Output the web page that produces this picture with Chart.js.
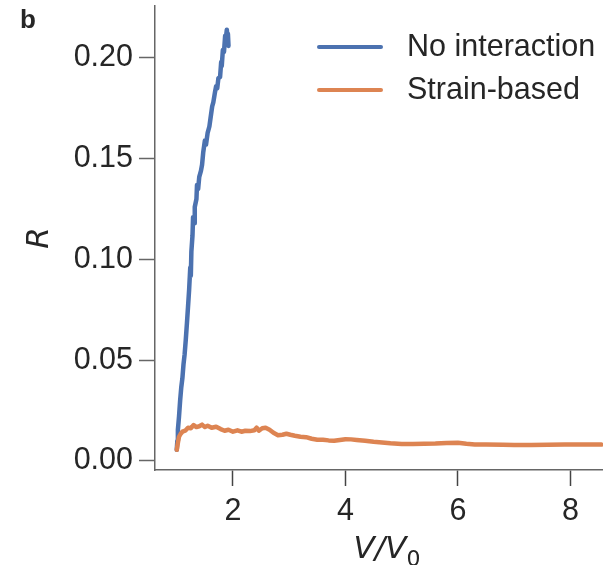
<!DOCTYPE html>
<html>
<head>
<meta charset="utf-8">
<script src="https://cdn.jsdelivr.net/npm/chart.js@4.4.1/dist/chart.umd.min.js"></script>
<style>
  html, body { margin: 0; padding: 0; background: #fff; overflow: hidden; }
</style>
</head>
<body>
<canvas id="chart" width="603" height="565"></canvas>
<script>
// values
const seriesNames = ["No interaction", "Strain-based"];
const xTicks = [2, 4, 6, 8];
const yTicks = [0, 0.05, 0.1, 0.15, 0.2];

const vNo = [1.00, 1.01, 1.02, 1.04, 1.06, 1.08, 1.10, 1.12, 1.14, 1.16, 1.18, 1.20,
  1.22, 1.24, 1.25, 1.26, 1.28, 1.29, 1.31, 1.32, 1.35, 1.36, 1.38, 1.40, 1.43, 1.45,
  1.47, 1.50, 1.52, 1.55, 1.58, 1.60, 1.63, 1.65, 1.68, 1.70, 1.72, 1.74, 1.77, 1.79,
  1.80, 1.82, 1.84, 1.86, 1.87, 1.89, 1.90, 1.91, 1.92];
const rNo = [0.0055, 0.010, 0.0155, 0.022, 0.030, 0.0365, 0.041, 0.048, 0.053, 0.060, 0.068, 0.0764,
  0.085, 0.096, 0.092, 0.104, 0.112, 0.121, 0.118, 0.126, 0.130, 0.137, 0.135, 0.141, 0.144, 0.147,
  0.153, 0.159, 0.157, 0.163, 0.166, 0.170, 0.176, 0.178, 0.183, 0.186, 0.185, 0.190, 0.1905, 0.198,
  0.196, 0.204, 0.203, 0.211, 0.209, 0.214, 0.211, 0.212, 0.206];

const vStrain = [1.00, 1.02, 1.04, 1.07, 1.10, 1.15, 1.20, 1.25, 1.30, 1.35, 1.40, 1.45, 1.50,
  1.55, 1.62, 1.70, 1.78, 1.85, 1.92, 2.00, 2.08, 2.15, 2.22, 2.30, 2.38, 2.42, 2.46, 2.52,
  2.58, 2.65, 2.72, 2.80, 2.88, 2.95, 3.02, 3.10, 3.20, 3.30, 3.40, 3.50, 3.60, 3.70, 3.80,
  3.90, 4.00, 4.10, 4.20, 4.35, 4.50, 4.65, 4.80, 5.00, 5.20, 5.40, 5.60, 5.80, 6.00, 6.15,
  6.30, 6.50, 6.80, 7.00, 7.30, 7.60, 7.90, 8.10, 8.30, 8.55];
const rStrain = [0.0055, 0.009, 0.012, 0.0135, 0.0145, 0.0150, 0.0165, 0.0162, 0.0178, 0.0168, 0.0172, 0.0180, 0.0168,
  0.0175, 0.0165, 0.0170, 0.0158, 0.0150, 0.0155, 0.0145, 0.0152, 0.0145, 0.0150, 0.0148, 0.0152, 0.0165, 0.0150, 0.0162,
  0.0165, 0.0155, 0.0140, 0.0128, 0.0130, 0.0135, 0.0130, 0.0125, 0.0120, 0.0118, 0.0110, 0.0105, 0.0105, 0.0102, 0.0100,
  0.0104, 0.0108, 0.0107, 0.0104, 0.0100, 0.0095, 0.0092, 0.0088, 0.0084, 0.0084, 0.0085, 0.0086, 0.0089, 0.0090, 0.0085,
  0.0082, 0.0081, 0.0080, 0.0079, 0.0079, 0.0080, 0.0081, 0.0082, 0.0082, 0.0081];

const colors = ["#4c72b0", "#dd8452"];
const textColor = "#262626";
const fontFamily = "'Liberation Sans', Arial, sans-serif";
const mathFamily = "'DejaVu Sans', sans-serif";

const toPoints = (xs, ys) => xs.map((x, i) => ({ x, y: ys[i] }));

// legend, axis titles and panel letter drawn on the canvas
const decorations = {
  id: "decorations",
  afterDraw(chart) {
    const ctx = chart.ctx;
    const area = chart.chartArea;
    ctx.save();
    ctx.fillStyle = textColor;
    ctx.textBaseline = "middle";

    // legend
    ctx.font = "30.5px " + fontFamily;
    chart.data.datasets.forEach((ds, i) => {
      const y = 47 + i * 43;
      ctx.strokeStyle = ds.borderColor;
      ctx.lineWidth = 4;
      ctx.lineCap = "round";
      ctx.beginPath();
      ctx.moveTo(319, y);
      ctx.lineTo(381, y);
      ctx.stroke();
      ctx.fillText(ds.label, 407, y + 1);
    });

    // panel letter
    ctx.font = "bold 26px " + fontFamily;
    ctx.fillText("b", 20, 21);

    // y title
    ctx.font = "italic 31px " + mathFamily;
    ctx.save();
    ctx.translate(40, (area.top + area.bottom) / 2);
    ctx.rotate(-Math.PI / 2);
    ctx.textAlign = "center";
    ctx.fillText("R", 0, 0);
    ctx.restore();

    // x title V/V0
    ctx.textBaseline = "alphabetic";
    const main = "V/V";
    ctx.font = "italic 31px " + mathFamily;
    const w = ctx.measureText(main).width;
    ctx.font = "22px " + mathFamily;
    const ws = ctx.measureText("0").width;
    const x0 = 387 - (w + ws) / 2;
    ctx.font = "italic 31px " + mathFamily;
    ctx.fillText(main, x0, 558);
    ctx.font = "22px " + mathFamily;
    ctx.fillText("0", x0 + w, 566);
    ctx.restore();
  }
};

new Chart(document.getElementById("chart"), {
  type: "line",
  data: {
    datasets: [
      {
        label: seriesNames[0],
        data: toPoints(vNo, rNo),
        borderColor: colors[0],
        borderWidth: 4.5,
        borderJoinStyle: "round",
        borderCapStyle: "round",
        pointRadius: 0,
        tension: 0,
        order: 1
      },
      {
        label: seriesNames[1],
        data: toPoints(vStrain, rStrain),
        borderColor: colors[1],
        borderWidth: 4.5,
        borderJoinStyle: "round",
        borderCapStyle: "round",
        pointRadius: 0,
        tension: 0,
        order: 0
      }
    ]
  },
  options: {
    responsive: false,
    animation: false,
    layout: { padding: { top: 6, left: 0, right: 0, bottom: 0 } },
    plugins: {
      legend: { display: false },
      tooltip: { enabled: false }
    },
    scales: {
      x: {
        type: "linear",
        min: 0.613,
        max: 8.58,
        afterFit: s => { s.height = 95; s.paddingLeft = 0; s.paddingRight = 0; },
        afterBuildTicks: s => { s.ticks = xTicks.map(v => ({ value: v })); },
        grid: { drawOnChartArea: false, tickLength: 16, tickColor: "#444", tickWidth: 1.5 },
        border: { color: "#666", width: 1.5 },
        ticks: {
          color: textColor,
          padding: 7,
          maxRotation: 0,
          font: { family: fontFamily, size: 30.5 },
          callback: v => String(v)
        }
      },
      y: {
        min: -0.0045,
        max: 0.2258,
        afterFit: s => { s.width = 155; s.paddingTop = 0; s.paddingBottom = 0; },
        afterBuildTicks: s => { s.ticks = yTicks.map(v => ({ value: v })); },
        grid: { drawOnChartArea: false, tickLength: 16, tickColor: "#666", tickWidth: 1.5 },
        border: { color: "#666", width: 1.5 },
        ticks: {
          color: textColor,
          padding: 6,
          font: { family: fontFamily, size: 30.5 },
          callback: v => v.toFixed(2)
        }
      }
    }
  },
  plugins: [decorations]
});
</script>
</body>
</html>
